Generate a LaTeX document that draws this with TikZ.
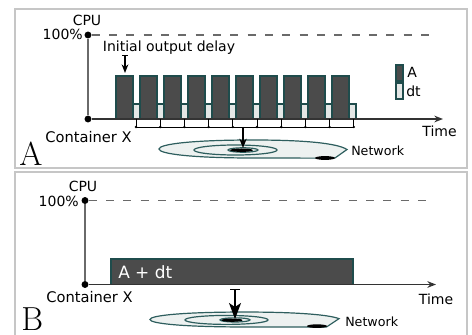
\documentclass[tikz,border=0pt]{standalone}
\usepackage{fontspec}
\newfontfamily\dejavu{DejaVu Sans}
\usetikzlibrary{arrows.meta}
\definecolor{barfill}{HTML}{4B4B4B}
\definecolor{tealline}{HTML}{1F4C4C}
\definecolor{dtfill}{HTML}{E4E7E6}
\definecolor{netfill}{HTML}{EDF1F0}
\definecolor{netline}{HTML}{2E5E5E}
\definecolor{axisgrey}{HTML}{6A6A6A}
\definecolor{panelgrey}{HTML}{C6C6C6}

\begin{document}
\begin{tikzpicture}[x=0.75pt, y=-0.75pt,
    lbl/.style={font=\dejavu\fontsize{10.5}{12}\selectfont, inner sep=0pt, anchor=base},
    netlbl/.style={font=\dejavu\fontsize{9.5}{11}\selectfont, inner sep=0pt, anchor=base west},
    panellbl/.style={font=\rmfamily\fontsize{25}{30}\selectfont, inner sep=0pt, anchor=base west},
    dot/.style={circle, fill=black, inner sep=0pt, minimum size=5.2pt},
    panelbox/.style={draw=panelgrey, line width=1.5pt},
    burst/.style={fill=barfill, draw=tealline, line width=0.8pt},
    slack/.style={fill=dtfill, draw=tealline, line width=0.8pt},
    yaxis/.style={draw=axisgrey, line width=1.1pt},
    xaxis/.style={draw=black!80, line width=1pt, -{Stealth[length=6.5pt, width=5pt]}},
    limit/.style={draw=axisgrey, line width=0.8pt, dash pattern=on 6pt off 7pt},
    ring/.style={draw=netline, line width=0.9pt},
    blob/.style={fill=black}
]
    \useasboundingbox (0,0) rectangle (472,335);

    % ---------------- Panel A ----------------
    \draw[panelbox] (15,9) rectangle (467,168);
    \node[panellbl] (panA) at (19,166) {A};

    % Axes
    \node[dot] (topA) at (88,35) {};
    \node[dot] (orgA) at (88,119) {};
    \coordinate (endA) at (443,119);
    \coordinate (capA) at (437,35);
    \draw[yaxis] (orgA) -- (topA);
    \draw[limit] (topA) -- (capA);
    \node[lbl] (cpuA) at (87,26) {CPU};
    \node[lbl, anchor=base east] (fullA) at (83,40) {100\%};
    \node[lbl, font=\dejavu\fontsize{11}{13}\selectfont] (contA) at (88.5,143) {Container X};
    \node[lbl] (timeA) at (439.5,137) {Time};

    % Output bursts A and slack dt
    \foreach \k in {0,...,9} {
        \pgfmathsetmacro{\xpos}{116 + 24*\k}
        \filldraw[slack] (\xpos+17,104) rectangle (\xpos+24,119);
        \filldraw[burst] (\xpos,76) rectangle (\xpos+17,119);
    }
    \draw[xaxis] (orgA) -- (endA);

    % Initial output delay
    \node[lbl] (delay) at (169,52) {Initial output delay};
    \coordinate (delayTop) at (125,55);
    \coordinate (delayTip) at (125,73);
    \draw[line width=0.8pt, {Bar[width=4.5pt]}-{Stealth[length=6.5pt, width=5pt]}] (delayTop) -- (delayTip);

    % Send ticks
    \draw[line width=0.7pt] (136,127) -- (354,127);
    \foreach \k in {0,...,9} {
        \pgfmathsetmacro{\xt}{136 + 24.2*\k}
        \draw[line width=0.7pt] (\xt,119) -- (\xt,127);
        \fill (\xt,127) circle (1.3);
    }

    % Legend
    \filldraw[burst, line width=1pt] (396,65) rectangle (403,81);
    \node[lbl, anchor=base west] (legA) at (407,78) {A};
    \filldraw[slack, line width=1pt] (396,83) rectangle (403,99);
    \node[lbl, anchor=base west] (legdt) at (406,97) {dt};

    % Network A
    \begin{scope}[shift={(253,149)}]
        \filldraw[fill=netfill, ring] (82,9) -- (94,0.5)
            .. controls (84,-6) and (50,-9) .. (0,-9)
            .. controls (-60,-9) and (-94,-5) .. (-94,0)
            .. controls (-94,5) and (-60,9) .. (0,9)
            .. controls (40,9) and (70,9.3) .. (82,9);
        \draw[ring] (-17.5,1) ellipse [x radius=41.5, y radius=5];
        \draw[ring] (-10,1) ellipse [x radius=15, y radius=2.2];
        \fill[blob] (-11.5,1.2) ellipse [x radius=11.5, y radius=1.7];
        \fill[blob] (72,9) ellipse [x radius=10, y radius=1.9];
    \end{scope}
    \node[netlbl] (netA) at (351,156) {Network};
    \coordinate (tapA) at (243,127);
    \coordinate (hubA) at (243,148);
    \draw[line width=0.8pt, -{Stealth[length=7pt, width=5.5pt]}] (tapA) -- (hubA);

    % ---------------- Panel B ----------------
    \draw[panelbox] (15,338) -- (15,172) -- (467,172) -- (467,338);
    \node[panellbl] (panB) at (21,330.5) {B};

    % Axes
    \node[dot] (topB) at (85,200.5) {};
    \node[dot] (orgB) at (85,284.5) {};
    \coordinate (endB) at (436,284.5);
    \coordinate (capB) at (432,200.5);
    \draw[yaxis] (orgB) -- (topB);
    \draw[limit] (topB) -- (capB);
    \node[lbl] (cpuB) at (83,191) {CPU};
    \node[lbl, anchor=base east] (fullB) at (79,206) {100\%};
    \node[lbl, font=\dejavu\fontsize{11}{13}\selectfont] (contB) at (89.5,302) {Container X};
    \node[lbl] (timeB) at (436,304) {Time};

    % Single burst A + dt
    \filldraw[burst] (111,259) rectangle (353,284.5);
    \draw[xaxis] (orgB) -- (endB);
    \node[lbl, anchor=base west, text=white, font=\dejavu\fontsize{12.7}{15}\selectfont] (adt) at (118,278) {A + dt};

    % Network B
    \begin{scope}[shift={(244.5,319.5)}, yscale=0.83]
        \filldraw[fill=netfill, ring] (82,9) -- (94.5,-1)
            .. controls (84,-6) and (50,-9) .. (0,-9)
            .. controls (-60,-9) and (-94.5,-5) .. (-94.5,0)
            .. controls (-94.5,5) and (-60,9) .. (0,9)
            .. controls (40,9) and (70,9.3) .. (82,9);
        \draw[ring] (-18,0.5) ellipse [x radius=41.5, y radius=5.4];
        \draw[ring] (-9.5,0.5) ellipse [x radius=15, y radius=2.5];
        \fill[blob] (-12.5,0.8) ellipse [x radius=10.5, y radius=2];
        \fill[blob] (72.5,8) ellipse [x radius=10, y radius=2.2];
    \end{scope}
    \node[netlbl] (netB) at (345,326) {Network};
    \coordinate (dropB) at (235,289);
    \coordinate (hubB) at (235,319);
    \draw[line width=1pt, {Bar[width=7.5pt]}-{Stealth[length=12pt, width=9pt, inset=3pt]}] (dropB) -- (hubB);
\end{tikzpicture}
\end{document}
